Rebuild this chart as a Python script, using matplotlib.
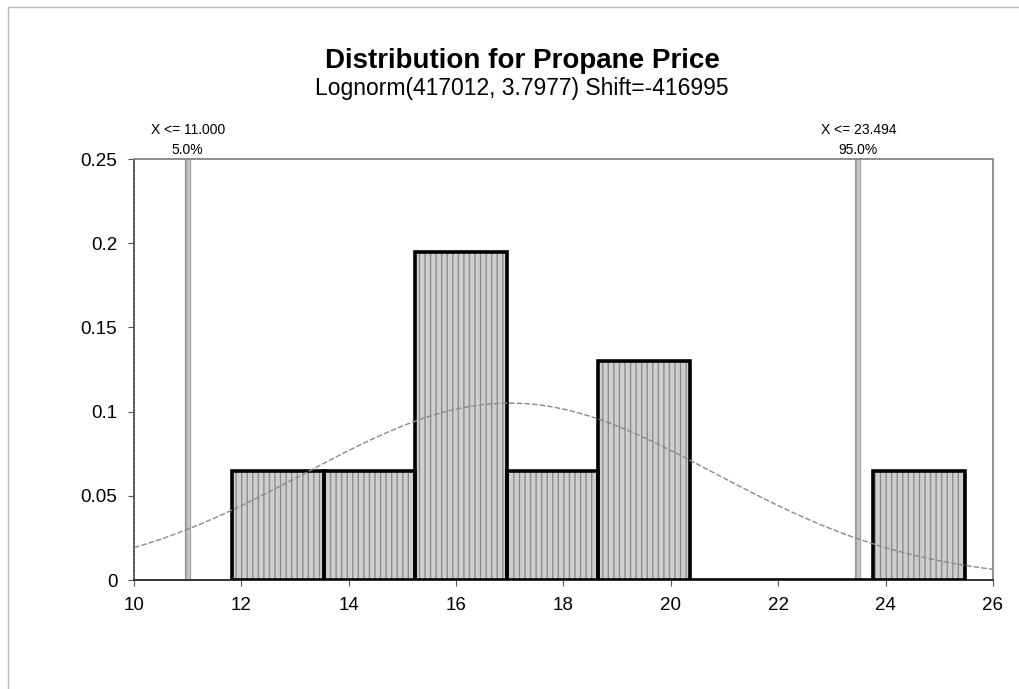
import numpy as np
import matplotlib
matplotlib.use("Agg")
import matplotlib.pyplot as plt

plt.rcParams["font.family"] = ["Liberation Sans", "DejaVu Sans"]

# histogram of the simulated prices (density scale)
bin_edges = [11.83, 13.53, 15.24, 16.94, 18.65, 20.35, 22.06, 23.76, 25.47]
bin_heights = [0.065, 0.065, 0.195, 0.065, 0.13, 0.0, 0.0, 0.065]

# fitted distribution: Lognorm(mean, sd) shifted
fit_mean = 417012.0
fit_sd = 3.7977
fit_shift = -416995.0

# percentile markers
pct_x = [11.000, 23.494]
pct_txt = ["X <= 11.000", "X <= 23.494"]
pct_lbl = ["5.0%", "95.0%"]

xticks = [10, 12, 14, 16, 18, 20, 22, 24, 26]
yticks = [0, 0.05, 0.1, 0.15, 0.2, 0.25]
ytick_lbl = ["0", "0.05", "0.1", "0.15", "0.2", "0.25"]


def lognorm_pdf(x, m, s, shift):
    sig2 = np.log1p((s / m) ** 2)
    mu = np.log(m) - sig2 / 2
    z = x - shift
    return np.exp(-(np.log(z) - mu) ** 2 / (2 * sig2)) / (z * np.sqrt(2 * np.pi * sig2))


fig = plt.figure(figsize=(10.2, 6.89), dpi=100)
ax = fig.add_axes([0.1314, 0.1582, 0.8421, 0.611])

edges = np.array(bin_edges)
widths = np.diff(edges)
ax.bar(edges[:-1], bin_heights, width=widths, align="edge",
       facecolor="#cfcfcf", edgecolor="#8c8c8c", hatch="|||", lw=0, zorder=2)
ax.bar(edges[:-1], bin_heights, width=widths, align="edge",
       fill=False, edgecolor="black", lw=2.6, zorder=3)

xs = np.linspace(10, 26, 400)
ax.plot(xs, lognorm_pdf(xs, fit_mean, fit_sd, fit_shift), color="#8a8a8a",
        lw=1.0, ls=(0, (4, 1.5)), zorder=4)

for x, t, p in zip(pct_x, pct_txt, pct_lbl):
    ax.plot([x, x], [0, 0.25], color="#9a9a9a", lw=4.5, zorder=1,
            solid_capstyle="butt")
    ax.plot([x, x], [0, 0.25], color="#c4c4c4", lw=2.5, zorder=1,
            solid_capstyle="butt")
    ax.text(x, 0.2675, t, ha="center", va="center", fontsize=10)
    ax.text(x, 0.2555, p, ha="center", va="center", fontsize=10)

ax.set_xlim(10, 26)
ax.set_ylim(0, 0.25)
ax.set_xticks(xticks)
ax.set_yticks(yticks)
ax.set_yticklabels(ytick_lbl)
ax.tick_params(labelsize=13.5, length=4, width=0.8, color="#555555", pad=8)

for side in ["top", "right"]:
    ax.spines[side].set_color("#8a8a8a")
    ax.spines[side].set_linestyle((0, (1, 0.6)))
    ax.spines[side].set_linewidth(1.2)
ax.spines["left"].set_color("#555555")
ax.spines["left"].set_linestyle((0, (1, 0.6)))
ax.spines["left"].set_linewidth(1.2)
ax.spines["bottom"].set_color("#333333")
ax.spines["bottom"].set_linewidth(1.4)

fig.text(0.5118, 0.912, "Distribution for Propane Price", ha="center",
         va="center", fontsize=20, fontweight="bold")
fig.text(0.5118, 0.871, "Lognorm(417012, 3.7977) Shift=-416995", ha="center",
         va="center", fontsize=16.5)

# outer frame of the chart area
fig.add_artist(plt.Rectangle((0.008, -0.01), 1.0, 0.9998, transform=fig.transFigure,
                             fill=False, edgecolor="#b8b8b8", lw=1.0))

fig.savefig("out.png", dpi=100)
